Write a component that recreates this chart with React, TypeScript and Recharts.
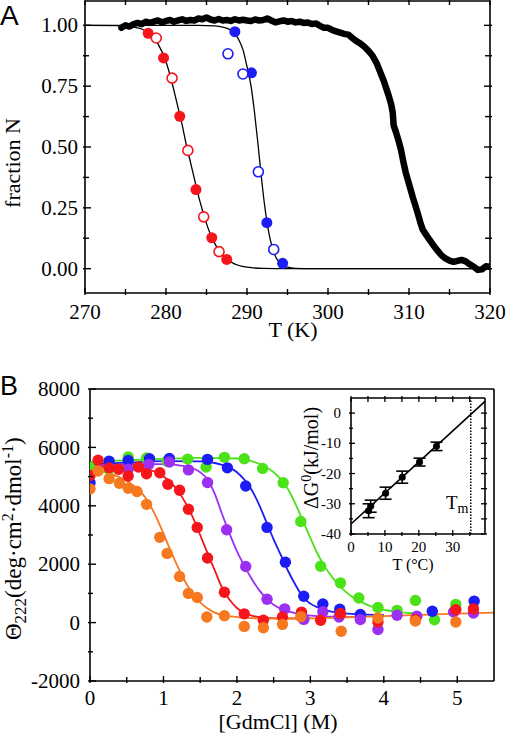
import React from 'react';
import { ComposedChart, Line, Scatter, XAxis, YAxis, ReferenceLine, ErrorBar } from 'recharts';

const SERIF = '"Liberation Serif", "Times New Roman", serif';
const SANS = '"Liberation Sans", Arial, sans-serif';

// ---------- Panel A data ----------
const aXTicks = [270, 275, 280, 285, 290, 295, 300, 305, 310, 315, 320];
const aYTicks = [0, 0.125, 0.25, 0.375, 0.5, 0.625, 0.75, 0.875, 1];

const aBlack: [number, number][] = [
  [274.5, 0.99], [275.0, 1.0], [275.5, 0.995], [276.0, 1.005], [276.5, 1.01], [277.0, 1.005], [277.5, 1.015],
  [278.0, 1.01], [278.5, 1.015], [279.0, 1.02], [279.5, 1.012], [280.0, 1.018], [280.5, 1.022], [281.0, 1.015],
  [281.5, 1.02], [282.0, 1.025], [282.5, 1.018], [283.0, 1.022], [283.5, 1.02], [284.0, 1.028], [284.5, 1.025],
  [285.0, 1.032], [285.5, 1.024], [286.0, 1.02], [286.5, 1.026], [287.0, 1.02], [287.5, 1.022], [288.0, 1.018],
  [288.5, 1.025], [289.0, 1.02], [289.5, 1.023], [290.0, 1.02], [290.5, 1.018], [291.0, 1.024], [291.5, 1.02],
  [292.0, 1.022], [292.5, 1.028], [293.0, 1.02], [293.5, 1.012], [294.0, 1.016], [294.5, 1.02], [295.0, 1.015],
  [295.5, 1.018], [296.0, 1.012], [296.5, 1.015], [297.0, 1.01], [297.5, 1.012], [298.0, 1.005], [298.5, 1.008],
  [299.0, 0.998], [299.5, 0.99], [300.0, 0.99], [300.5, 0.981], [301.0, 0.975], [301.5, 0.97], [302.0, 0.965],
  [302.5, 0.962], [303.0, 0.948], [303.5, 0.935], [304.0, 0.925], [304.5, 0.912], [305.0, 0.895], [305.5, 0.875],
  [306.0, 0.845], [306.3, 0.82], [306.6, 0.795], [306.9, 0.77], [307.2, 0.74], [307.5, 0.71], [307.8, 0.675],
  [308.0, 0.64], [308.1, 0.59], [308.4, 0.56], [308.7, 0.527], [309.0, 0.49], [309.3, 0.44], [309.6, 0.395],
  [309.9, 0.36], [310.2, 0.325], [310.5, 0.29], [310.8, 0.258], [311.1, 0.225], [311.4, 0.19], [311.7, 0.16],
  [312.0, 0.145], [312.5, 0.12], [313.0, 0.097], [313.5, 0.075], [314.0, 0.055], [314.5, 0.042], [315.0, 0.033],
  [315.5, 0.028], [316.0, 0.032], [316.5, 0.036], [317.0, 0.03], [317.5, 0.018], [318.0, 0.008], [318.5, -0.005],
  [319.0, -0.003], [319.5, 0.01], [320.0, 0.008],
];
const aRedFilled: [number, number][] = [[277.8, 0.967], [279.7, 0.866], [281.7, 0.626], [283.7, 0.325], [285.65, 0.127], [287.5, 0.038]];
const aRedOpen: [number, number][] = [[278.8, 0.948], [280.75, 0.783], [282.7, 0.486], [284.65, 0.213], [286.55, 0.07]];
const aBlueFilled: [number, number][] = [[288.5, 0.974], [290.55, 0.805], [292.45, 0.189], [294.4, 0.022]];
const aBlueOpen: [number, number][] = [[287.65, 0.883], [289.5, 0.8], [291.4, 0.398], [293.3, 0.079]];
const aRedFit: [number, number][] = [
  [270, 1], [274, 0.999], [276, 0.993], [277, 0.985], [278, 0.965], [279, 0.925], [280, 0.85], [280.5, 0.795],
  [281, 0.73], [281.5, 0.66], [282, 0.59], [282.5, 0.51], [283, 0.44], [283.5, 0.37], [284, 0.3], [284.5, 0.24],
  [285, 0.185], [285.5, 0.14], [286, 0.105], [286.5, 0.077], [287, 0.055], [288, 0.028], [289, 0.013], [290, 0.006],
  [292, 0.001], [295, 0], [320, 0],
];
const aBlueFit: [number, number][] = [
  [270, 1], [284, 1], [286, 0.998], [287, 0.993], [288, 0.98], [288.5, 0.965], [289, 0.94], [289.5, 0.9], [290, 0.83],
  [290.5, 0.75], [290.9, 0.65], [291.3, 0.53], [291.7, 0.4], [292.1, 0.28], [292.5, 0.185], [292.9, 0.115],
  [293.3, 0.07], [293.6, 0.045], [294, 0.026], [294.5, 0.013], [295, 0.006], [296, 0.001], [298, 0], [320, 0],
];

// ---------- Panel B data ----------
const bXTicks = [0, 0.5, 1, 1.5, 2, 2.5, 3, 3.5, 4, 4.5, 5];
const bYTicks = [-2000, -1000, 0, 1000, 2000, 3000, 4000, 5000, 6000, 7000, 8000];

const bOrange: [number, number][] = [
  [0, 4580], [0.11, 5190], [0.26, 4930], [0.4, 4770], [0.52, 4600], [0.64, 4490], [0.77, 4050], [0.95, 2920],
  [1.05, 2370], [1.22, 1580], [1.34, 1000], [1.46, 860], [1.59, 190], [1.83, 235], [2.1, -130], [2.36, -175],
  [2.62, -60], [2.87, 200], [3.42, -296], [3.92, 160], [4.43, 55], [4.98, 20],
];
const bRed: [number, number][] = [
  [0, 5040], [0.11, 5560], [0.26, 5300], [0.39, 5250], [0.52, 5020], [0.66, 5330], [0.77, 5100], [0.95, 5130],
  [1.06, 4740], [1.22, 4530], [1.34, 3880], [1.46, 3260], [1.6, 2210], [1.83, 1040], [2.1, 300], [2.36, 80],
  [2.62, 190], [2.88, 360], [3.14, 80], [3.41, 310], [3.92, 20], [4.43, 100], [4.98, 440], [5.22, 470],
];
const bPurple: [number, number][] = [
  [0.52, 5250], [0.8, 5420], [1.08, 5500], [1.34, 5230], [1.6, 4800], [1.86, 3180], [2.12, 1920], [2.41, 800],
  [2.65, 470], [2.91, 110], [3.17, 370], [3.39, 190], [3.68, 105], [3.92, -238], [4.18, 250], [4.45, 220],
  [4.95, 360], [5.22, 330],
];
const bBlue: [number, number][] = [
  [0, 4790], [0.26, 5530], [0.52, 5550], [0.81, 5610], [1.08, 5620], [1.6, 5590], [1.87, 5300], [2.12, 4680],
  [2.41, 3260], [2.66, 2070], [2.91, 900], [3.17, 640], [3.4, 460], [3.68, 280], [4.66, 390], [5.23, 736],
];
const bGreen: [number, number][] = [
  [0, 5325], [0.26, 5250], [0.52, 5670], [0.77, 5640], [1.05, 5530], [1.33, 5600], [1.58, 5330], [1.83, 5660],
  [2.1, 5610], [2.35, 5280], [2.63, 4790], [2.87, 3460], [3.14, 1930], [3.41, 1360], [3.66, 840], [3.92, 520],
  [4.18, 420], [4.43, 760], [4.69, 100], [4.98, 624],
];
const bOrangeFit: [number, number][] = [
  [0, 5220], [0.2, 5150], [0.4, 4980], [0.6, 4680], [0.7, 4450], [0.8, 4100], [0.9, 3620], [1.0, 3050], [1.1, 2450],
  [1.2, 1880], [1.3, 1380], [1.4, 980], [1.5, 690], [1.6, 480], [1.7, 340], [1.8, 260], [2.0, 190], [2.2, 150],
  [2.5, 135], [2.9, 140], [3.4, 175], [4.0, 220], [4.8, 290], [5.5, 340],
];
const bRedFit: [number, number][] = [
  [0, 5300], [0.4, 5350], [0.7, 5300], [0.9, 5150], [1.0, 5000], [1.1, 4800], [1.2, 4500], [1.3, 4100], [1.4, 3600],
  [1.5, 3000], [1.6, 2380], [1.7, 1780], [1.8, 1180], [1.9, 780], [2.0, 500], [2.1, 330], [2.2, 240], [2.4, 165],
  [2.7, 145], [3.0, 150],
];
const bPurpleFit: [number, number][] = [
  [0, 5380], [0.5, 5420], [1.0, 5430], [1.3, 5350], [1.5, 5150], [1.6, 4900], [1.7, 4400], [1.8, 3700], [1.9, 3050],
  [2.0, 2450], [2.1, 1950], [2.2, 1500], [2.3, 1120], [2.4, 830], [2.5, 610], [2.6, 470], [2.8, 320], [3.0, 240],
  [3.3, 200], [3.6, 190],
];
const bBlueFit: [number, number][] = [
  [0, 5420], [0.5, 5480], [1.0, 5530], [1.5, 5520], [1.8, 5400], [2.0, 5150], [2.1, 4900], [2.2, 4550], [2.3, 4050],
  [2.4, 3450], [2.5, 2850], [2.6, 2300], [2.7, 1750], [2.8, 1280], [2.9, 870], [3.0, 650], [3.1, 520], [3.2, 430],
  [3.4, 330], [3.7, 280], [4.0, 260],
];
const bGreenFit: [number, number][] = [
  [0, 5500], [0.5, 5560], [1.0, 5610], [1.5, 5640], [2.0, 5620], [2.2, 5530], [2.4, 5320], [2.5, 5150], [2.6, 4900],
  [2.7, 4550], [2.8, 4050], [2.9, 3480], [3.0, 2900], [3.1, 2350], [3.2, 1900], [3.3, 1550], [3.4, 1250],
  [3.5, 1020], [3.6, 830], [3.8, 580], [4.0, 440], [4.2, 360], [4.4, 320],
];

// ---------- Inset data ----------
const iXTicks = [0, 5, 10, 15, 20, 25, 30, 35];
const iYTicks = [-40, -35, -30, -25, -20, -15, -10, -5, 0];
const iT = [5.2, 5.8, 10.2, 15.1, 20.2, 25.2];
const iDG = [-32.3, -30.8, -26.5, -21.2, -16.2, -11.0];
const iErr = [2.3, 2.0, 2.0, 2.0, 1.3, 1.4];
const iFit: [number, number][] = [[0, -36.7], [39.5, 3.9]];
const iTm = 35.3;

const COLORS = {
  red: '#f4161b',
  blue: '#1c1cf4',
  green: '#4be21a',
  purple: '#9b2ff2',
  orange: '#f6781f',
};

const toXY = (arr: [number, number][]) => arr.map(([x, y]) => ({ x, y }));

const isMult = (v: number, m: number) => Math.abs(v / m - Math.round(v / m)) < 1e-6;

function tickFactory(
  side: 'bottom' | 'top' | 'left' | 'right',
  majorEvery: number,
  majorLen: number,
  minorLen: number,
  fmt: ((v: number) => string) | null,
  fontSize: number,
  offset: number,
  sw: number
) {
  return (props: any) => {
    const x = Number(props.x);
    const y = Number(props.y);
    const v = Number(props.payload?.value);
    const major = isMult(v, majorEvery);
    const len = major ? majorLen : minorLen;
    let x2 = x;
    let y2 = y;
    if (side === 'bottom') y2 = y - len;
    else if (side === 'top') y2 = y + len;
    else if (side === 'left') x2 = x + len;
    else x2 = x - len;
    let label: any = null;
    const st = { fontFamily: SERIF, fontSize };
    if (major && fmt) {
      if (side === 'bottom') {
        label = (
          <text x={x} y={y + offset} textAnchor="middle" style={st} fill="#000">
            {fmt(v)}
          </text>
        );
      } else if (side === 'left') {
        label = (
          <text x={x - offset} y={y + fontSize * 0.34} textAnchor="end" style={st} fill="#000">
            {fmt(v)}
          </text>
        );
      }
    }
    return (
      <g>
        {len > 0 && <line x1={x} y1={y} x2={x2} y2={y2} stroke="#000" strokeWidth={sw} />}
        {label}
      </g>
    );
  };
}

const dot = (color: string, r: number) => (p: any) => <circle cx={p.cx} cy={p.cy} r={r} fill={color} />;
const ring = (color: string, r: number) => (p: any) => (
  <circle cx={p.cx} cy={p.cy} r={r} fill="#fff" stroke={color} strokeWidth={1.6} />
);

const AX = { stroke: '#000', strokeWidth: 1.6 };

function PanelA() {
  return (
    <ComposedChart width={506} height={370} margin={{ top: 0, right: 15, bottom: 0, left: 0 }}>
      <XAxis xAxisId="b" type="number" dataKey="x" domain={[270, 320]} allowDataOverflow ticks={aXTicks} interval={0}
        tickSize={0} tickLine={false} axisLine={AX} height={77}
        tick={tickFactory('bottom', 10, 7, 6, (v) => String(v), 21, 23.5, 1.4)} />
      <XAxis xAxisId="t" orientation="top" type="number" dataKey="x" domain={[270, 320]} allowDataOverflow ticks={aXTicks}
        interval={0} tickSize={0} tickLine={false} axisLine={AX} height={1}
        tick={tickFactory('top', 10, 6, 6, null, 21, 0, 1.4)} />
      <YAxis yAxisId="l" type="number" domain={[-0.1, 1.1]} allowDataOverflow ticks={aYTicks} interval={0} width={85}
        tickSize={0} tickLine={false} axisLine={AX}
        tick={tickFactory('left', 0.25, 8, 6, (v) => v.toFixed(2), 21, 5, 1.4)} />
      <YAxis yAxisId="r" orientation="right" type="number" domain={[-0.1, 1.1]} allowDataOverflow ticks={aYTicks}
        interval={0} width={1} tickSize={0} tickLine={false} axisLine={AX}
        tick={tickFactory('right', 0.25, 8, 7, null, 21, 0, 1.4)} />
      <Line xAxisId="b" yAxisId="l" data={toXY(aBlack)} dataKey="y" type="linear" stroke="#000" strokeWidth={6.5}
        strokeLinejoin="round" strokeLinecap="round" dot={false} isAnimationActive={false} />
      <Line xAxisId="b" yAxisId="l" data={toXY(aRedFit)} dataKey="y" type="monotone" stroke="#000" strokeWidth={1.3}
        dot={false} isAnimationActive={false} />
      <Line xAxisId="b" yAxisId="l" data={toXY(aBlueFit)} dataKey="y" type="monotone" stroke="#000" strokeWidth={1.3}
        dot={false} isAnimationActive={false} />
      <Scatter xAxisId="b" yAxisId="l" data={toXY(aRedFilled)} dataKey="y" shape={dot(COLORS.red, 5.5)} isAnimationActive={false} />
      <Scatter xAxisId="b" yAxisId="l" data={toXY(aRedOpen)} dataKey="y" shape={ring(COLORS.red, 5)} isAnimationActive={false} />
      <Scatter xAxisId="b" yAxisId="l" data={toXY(aBlueFilled)} dataKey="y" shape={dot(COLORS.blue, 5.5)} isAnimationActive={false} />
      <Scatter xAxisId="b" yAxisId="l" data={toXY(aBlueOpen)} dataKey="y" shape={ring(COLORS.blue, 5)} isAnimationActive={false} />
    </ComposedChart>
  );
}

function PanelB() {
  const series: [string, [number, number][], [number, number][]][] = [
    [COLORS.green, bGreen, bGreenFit],
    [COLORS.blue, bBlue, bBlueFit],
    [COLORS.purple, bPurple, bPurpleFit],
    [COLORS.red, bRed, bRedFit],
    [COLORS.orange, bOrange, bOrangeFit],
  ];
  return (
    <ComposedChart width={506} height={366} margin={{ top: 18, right: 11, bottom: 0, left: 0 }}>
      <XAxis xAxisId="b" type="number" dataKey="x" domain={[0, 5.5]} allowDataOverflow ticks={bXTicks} interval={0}
        tickSize={0} tickLine={false} axisLine={AX} height={55}
        tick={tickFactory('bottom', 1, 7, 6, (v) => String(v), 21, 21.5, 1.4)} />
      <XAxis xAxisId="t" orientation="top" type="number" dataKey="x" domain={[0, 5.5]} allowDataOverflow
        tick={false} tickLine={false} axisLine={AX} height={1} />
      <YAxis yAxisId="l" type="number" domain={[-2000, 8000]} allowDataOverflow ticks={bYTicks} interval={0} width={90}
        tickSize={0} tickLine={false} axisLine={AX}
        tick={tickFactory('left', 2000, 8, 5, (v) => String(v), 21, 8, 1.4)} />
      <YAxis yAxisId="r" orientation="right" type="number" domain={[-2000, 8000]} allowDataOverflow width={1}
        tick={false} tickLine={false} axisLine={AX} />
      {series.map(([c, pts], i) => (
        <Scatter key={'s' + i} xAxisId="b" yAxisId="l" data={toXY(pts)} dataKey="y" shape={dot(c, 5.7)} isAnimationActive={false} />
      ))}
      {series.map(([c, , fit], i) => (
        <Line key={'l' + i} xAxisId="b" yAxisId="l" data={toXY(fit)} dataKey="y" type="monotone" stroke={c}
          strokeWidth={1.8} dot={false} isAnimationActive={false} />
      ))}
    </ComposedChart>
  );
}

function Inset() {
  const pts = iT.map((t, i) => ({ x: t, y: iDG[i], e: iErr[i] }));
  return (
    <ComposedChart width={200} height={190} margin={{ top: 7, right: 14, bottom: 0, left: 0 }}>
      <XAxis xAxisId="b" type="number" dataKey="x" domain={[0, 39.5]} allowDataOverflow ticks={iXTicks} interval={0}
        tickSize={0} tickLine={false} axisLine={AX} height={46}
        tick={tickFactory('bottom', 10, 6, 4, (v) => String(v), 15, 16, 1.3)} />
      <XAxis xAxisId="t" orientation="top" type="number" dataKey="x" domain={[0, 39.5]} allowDataOverflow ticks={iXTicks}
        interval={0} tickSize={0} tickLine={false} axisLine={AX} height={1}
        tick={tickFactory('top', 10, 6, 6, null, 15, 0, 1.3)} />
      <YAxis yAxisId="l" type="number" domain={[-40, 5]} allowDataOverflow ticks={iYTicks} interval={0} width={51}
        tickSize={0} tickLine={false} axisLine={AX}
        tick={tickFactory('left', 10, 6, 4, (v) => String(v), 15, 8, 1.3)} />
      <YAxis yAxisId="r" orientation="right" type="number" domain={[-40, 5]} allowDataOverflow ticks={iYTicks}
        interval={0} width={1} tickSize={0} tickLine={false} axisLine={AX}
        tick={tickFactory('right', 10, 6, 6, null, 15, 0, 1.3)} />
      <ReferenceLine xAxisId="b" yAxisId="l" x={iTm} stroke="#000" strokeWidth={1.5} strokeDasharray="1.5 1.5" />
      <Line xAxisId="b" yAxisId="l" data={toXY(iFit)} dataKey="y" type="linear" stroke="#000" strokeWidth={1.6}
        dot={false} isAnimationActive={false} />
      <Scatter xAxisId="b" yAxisId="l" data={pts} dataKey="y" shape={dot('#000', 3.5)} isAnimationActive={false}>
        <ErrorBar dataKey="e" direction="y" width={6} stroke="#000" strokeWidth={1.6} isAnimationActive={false} />
      </Scatter>
    </ComposedChart>
  );
}

function Labels() {
  const serif = (fontSize: number) => ({ fontFamily: SERIF, fontSize });
  return (
    <svg width={506} height={736} style={{ position: 'absolute', left: 0, top: 0, pointerEvents: 'none' }}>
      <text x={0} y={25} style={{ fontFamily: SANS, fontSize: 28 }} fill="#000">A</text>
      <text x={0} y={395} style={{ fontFamily: SANS, fontSize: 27 }} fill="#000">B</text>
      <text transform="translate(20,163) rotate(-90)" textAnchor="middle" style={serif(22)} fill="#000">
        fraction N
      </text>
      <text x={293} y={337} textAnchor="middle" style={serif(22)} fill="#000">T (K)</text>
      <text transform="translate(21,541) rotate(-90)" x={-99} y={0} textAnchor="start" style={serif(23)} fill="#000">
        Θ<tspan style={{ fontSize: 17 }} dy={5}>222</tspan>
        <tspan dy={-5}>(deg·cm</tspan>
        <tspan style={{ fontSize: 16 }} dy={-8}>2</tspan>
        <tspan dy={8}>·dmol</tspan>
        <tspan style={{ fontSize: 16 }} dy={-8}>-1</tspan>
        <tspan dy={8}>)</tspan>
      </text>
      <text x={278} y={729} textAnchor="middle" style={serif(22)} fill="#000">[GdmCl] (M)</text>
      <text transform="translate(318,458) rotate(-90)" x={-51} y={0} textAnchor="start" style={serif(20)} fill="#000">
        ΔG<tspan style={{ fontSize: 14 }} dy={-7}>0</tspan>
        <tspan dy={7}>(kJ/mol)</tspan>
      </text>
      <text x={413} y={570} textAnchor="middle" style={serif(16)} fill="#000">T (°C)</text>
      <text x={446} y={509} style={serif(19)} fill="#000">
        T<tspan style={{ fontSize: 14 }} dy={4}>m</tspan>
      </text>
    </svg>
  );
}

export default function App() {
  return (
    <div style={{ position: 'absolute', left: 0, top: 0, width: 506, height: 736, background: '#fff', overflow: 'hidden' }}>
      <div style={{ position: 'absolute', left: 0, top: 0 }}>
        <PanelA />
      </div>
      <div style={{ position: 'absolute', left: 0, top: 370 }}>
        <PanelB />
      </div>
      <div style={{ position: 'absolute', left: 300, top: 390 }}>
        <Inset />
      </div>
      <Labels />
    </div>
  );
}
